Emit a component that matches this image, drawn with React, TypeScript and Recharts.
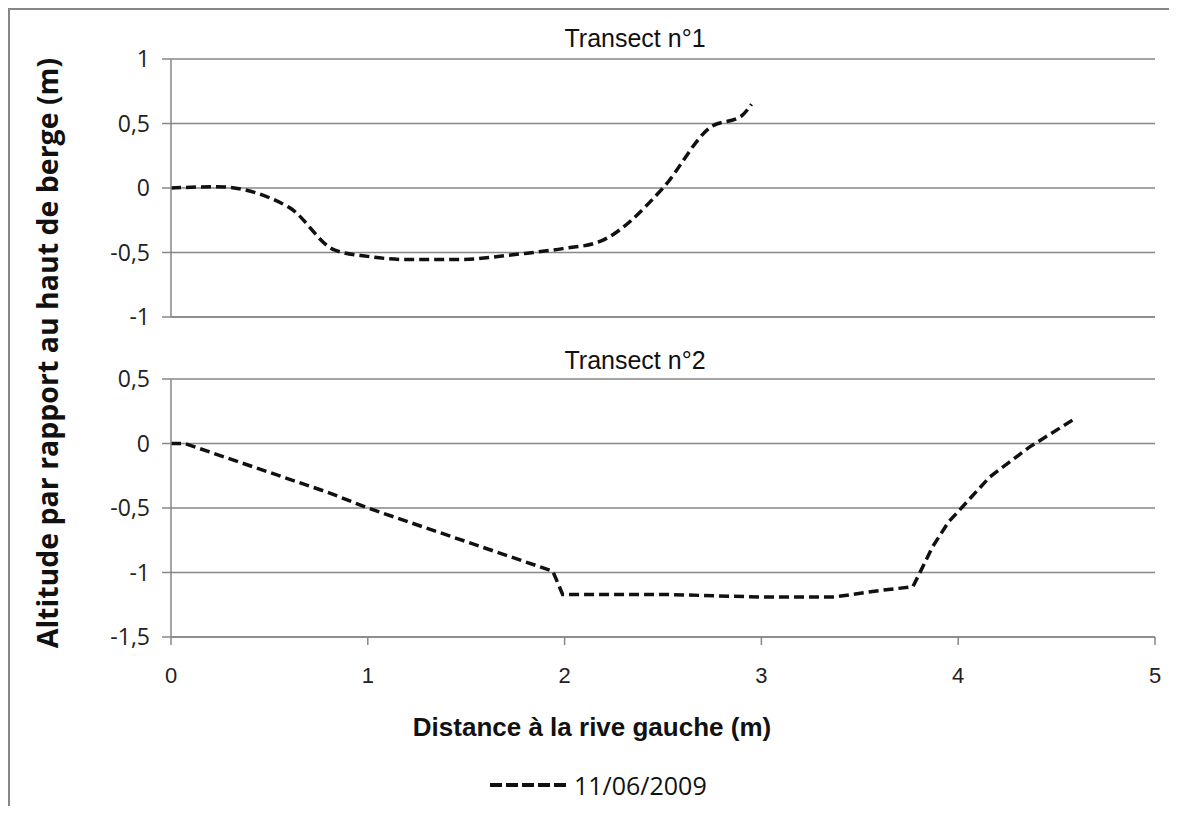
import React from 'react';
import { LineChart, Line, XAxis, YAxis, CartesianGrid, Legend, Label } from 'recharts';

// values (distance in m, altitude in m)
const distance1 = [0, 0.23, 0.6, 0.83, 1.0, 1.2, 1.45, 1.78, 1.99, 2.17, 2.5, 2.74, 2.9, 2.95];
const altitude1 = [0, 0.01, -0.15, -0.48, -0.53, -0.555, -0.555, -0.51, -0.47, -0.42, 0, 0.47, 0.56, 0.65];

const distance2 = [0, 0.07, 0.8, 1.0, 1.94, 1.99, 2.5, 3.0, 3.37, 3.6, 3.77, 3.87, 3.95, 4.16, 4.36, 4.6];
const altitude2 = [0, 0, -0.38, -0.5, -0.99, -1.17, -1.17, -1.19, -1.19, -1.14, -1.11, -0.8, -0.61, -0.26, -0.03, 0.2];

const xTicks = [0, 1, 2, 3, 4, 5];
const yTicks1 = [-1, -0.5, 0, 0.5, 1];
const yTicks2 = [-1.5, -1, -0.5, 0, 0.5];

const seriesName = '11/06/2009';
const titles = ['Transect n°1', 'Transect n°2'];
const xTitle = 'Distance à la rive gauche (m)';
const yTitle = 'Altitude par rapport au haut de berge (m)';

const transect1 = distance1.map((x, i) => ({ x, y: altitude1[i] }));
const transect2 = distance2.map((x, i) => ({ x, y: altitude2[i] }));

const W = 1161;
const H = 798;
const GRID = '#878787';
const fmt = (v: number) => String(v).replace('.', ',');

const yTickStyle = { fontFamily: 'Open Sans', fontSize: 23, fill: '#222' };
const xTickStyle = { fontFamily: 'Liberation Sans', fontSize: 22, fill: '#222' };

const titleStyle = (top: number): React.CSSProperties => ({
  position: 'absolute',
  top,
  left: 625,
  transform: 'translateX(-50%)',
  fontFamily: 'Liberation Sans',
  fontSize: 25,
  lineHeight: '25px',
  color: '#111',
  whiteSpace: 'nowrap',
});

const LegendContent = (props: any) => (
  <div style={{ display: 'flex', alignItems: 'center' }}>
    {(props.payload || []).map((p: any) => (
      <React.Fragment key={p.value}>
        <svg width={80} height={10}>
          <line x1={2} y1={5} x2={78} y2={5} stroke="#111" strokeWidth={4} strokeDasharray="12 4" />
        </svg>
        <span style={{ fontFamily: 'Open Sans', fontSize: 25, marginLeft: 6, color: '#111' }}>{p.value}</span>
      </React.Fragment>
    ))}
  </div>
);

const axisStyle = { stroke: GRID, strokeWidth: 1.5 };

export default function App() {
  return (
    <div
      style={{
        position: 'relative',
        width: W,
        height: H,
        borderTop: `2px solid ${GRID}`,
        borderLeft: `2px solid ${GRID}`,
        boxSizing: 'border-box',
        background: '#fff',
      }}
    >
      {/* top panel */}
      <div style={{ position: 'absolute', top: 0, left: 0 }}>
        <LineChart width={W} height={H} data={transect1} margin={{ top: 49, right: 16, bottom: 468, left: 0 }}>
          <CartesianGrid horizontal vertical={false} stroke={GRID} strokeWidth={1.5} />
          <XAxis
            dataKey="x"
            type="number"
            domain={[0, 5]}
            ticks={xTicks}
            height={23}
            tick={false}
            tickSize={8}
            axisLine={axisStyle}
            tickLine={axisStyle}
          />
          <YAxis
            type="number"
            domain={[-1, 1]}
            ticks={yTicks1}
            width={161}
            tickSize={9}
            tickMargin={12}
            tickFormatter={fmt}
            tick={yTickStyle}
            axisLine={axisStyle}
            tickLine={axisStyle}
          >
            <Label
              content={() => (
                <text
                  x={37}
                  y={343}
                  transform="rotate(-90 37 343)"
                  textAnchor="middle"
                  dominantBaseline="central"
                  style={{ fontFamily: 'Open Sans', fontWeight: 700, fontSize: 28.5, fill: '#111' }}
                >
                  {yTitle}
                </text>
              )}
            />
          </YAxis>
          <Line
            dataKey="y"
            type="monotone"
            stroke="#111"
            strokeWidth={3.5}
            strokeDasharray="10 5"
            dot={false}
            isAnimationActive={false}
          />
        </LineChart>
      </div>

      {/* bottom panel */}
      <div style={{ position: 'absolute', top: 0, left: 0 }}>
        <LineChart width={W} height={H} data={transect2} margin={{ top: 369, right: 16, bottom: 118, left: 0 }}>
          <CartesianGrid horizontal vertical={false} stroke={GRID} strokeWidth={1.5} />
          <XAxis
            dataKey="x"
            type="number"
            domain={[0, 5]}
            ticks={xTicks}
            height={53}
            tickSize={8}
            tickMargin={22}
            tick={xTickStyle}
            axisLine={axisStyle}
            tickLine={axisStyle}
          >
            <Label
              content={() => (
                <text
                  x={582}
                  y={717}
                  textAnchor="middle"
                  dominantBaseline="central"
                  style={{ fontFamily: 'Liberation Sans', fontWeight: 700, fontSize: 26, fill: '#111' }}
                >
                  {xTitle}
                </text>
              )}
            />
          </XAxis>
          <YAxis
            type="number"
            domain={[-1.5, 0.5]}
            ticks={yTicks2}
            width={161}
            tickSize={9}
            tickMargin={12}
            tickFormatter={fmt}
            tick={yTickStyle}
            axisLine={axisStyle}
            tickLine={axisStyle}
          />
          <Legend
            layout="horizontal"
            verticalAlign="middle"
            align="center"
            content={LegendContent}
            wrapperStyle={{ left: 478, top: 758, width: 'auto' }}
          />
          <Line
            name={seriesName}
            dataKey="y"
            type="linear"
            stroke="#111"
            strokeWidth={3.5}
            strokeDasharray="10 5"
            dot={false}
            isAnimationActive={false}
          />
        </LineChart>
      </div>

      <div style={titleStyle(16)}>{titles[0]}</div>
      <div style={titleStyle(338)}>{titles[1]}</div>
    </div>
  );
}
